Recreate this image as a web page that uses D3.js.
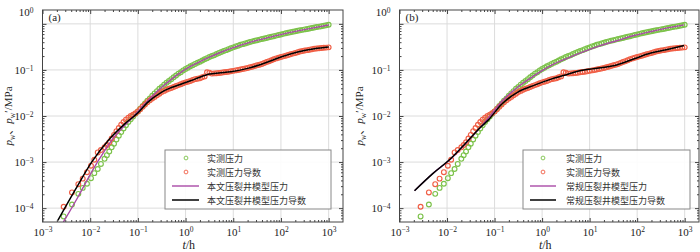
<!DOCTYPE html>
<html>
<head>
<meta charset="utf-8">
<script src="https://cdn.jsdelivr.net/npm/d3@7"></script>
<style>
  body { margin: 0; background: #fff; }
  svg { display: block; }
</style>
</head>
<body>
<script>
// measured data (shared by both panels), t in h, pressure in MPa
const measT = [0.00278, 0.00415, 0.00564, 0.00697, 0.00857, 0.0104, 0.0122, 0.0144, 0.0168,
  0.0200, 0.0224, 0.0251, 0.0282, 0.0316, 0.0355, 0.0398, 0.0447, 0.0501, 0.0562, 0.0631, 0.0708, 0.0794, 0.0891,
  0.100, 0.112, 0.126, 0.141, 0.158, 0.178, 0.200, 0.224, 0.251, 0.282, 0.316, 0.355, 0.398, 0.447, 0.501, 0.562, 0.631, 0.708, 0.794, 0.891,
  1.00, 1.12, 1.26, 1.41, 1.58, 1.78, 2.00, 2.24, 2.51, 2.82, 3.16, 3.55, 3.98, 4.47, 5.01, 5.62, 6.31, 7.08, 7.94, 8.91,
  10.0, 11.2, 12.6, 14.1, 15.8, 17.8, 20.0, 22.4, 25.1, 28.2, 31.6, 35.5, 39.8, 44.7, 50.1, 56.2, 63.1, 70.8, 79.4, 89.1,
  100, 112, 126, 141, 158, 178, 200, 224, 251, 282, 316, 355, 398, 447, 501, 562, 631, 708, 794, 891, 1000];
const measP = [6.6e-5, 1.20e-4, 2.04e-4, 2.75e-4, 3.39e-4, 4.47e-4, 5.75e-4, 7.08e-4, 9.12e-4,
  1.175e-3, 1.41e-3, 1.70e-3, 2.09e-3, 2.51e-3, 3.09e-3, 3.72e-3, 4.47e-3, 5.37e-3, 6.31e-3, 7.41e-3, 8.51e-3, 9.77e-3, 0.0112,
  0.0126, 0.01445, 0.0166, 0.0186, 0.0214, 0.0240, 0.0275, 0.0309, 0.0347, 0.0389, 0.0427, 0.0479, 0.0525, 0.0575, 0.0631, 0.0692, 0.0759, 0.0832, 0.0891, 0.0977,
  0.105, 0.112, 0.120, 0.127, 0.135, 0.143, 0.151, 0.160, 0.170, 0.180, 0.191, 0.200, 0.209, 0.221, 0.234, 0.245, 0.257, 0.269, 0.282, 0.295,
  0.309, 0.324, 0.335, 0.351, 0.363, 0.376, 0.389, 0.403, 0.417, 0.430, 0.442, 0.455, 0.468, 0.482, 0.495, 0.511, 0.525, 0.541, 0.556, 0.573,
  0.589, 0.607, 0.624, 0.643, 0.661, 0.676, 0.692, 0.708, 0.724, 0.741, 0.759, 0.776, 0.794, 0.813, 0.832, 0.851, 0.871, 0.891, 0.912, 0.933, 0.955];
const measDP = [1.07e-4, 2.19e-4, 3.31e-4, 4.37e-4, 6.03e-4, 8.32e-4, 1.12e-3, 1.62e-3, 1.82e-3,
  2.09e-3, 2.34e-3, 2.69e-3, 3.24e-3, 3.89e-3, 4.68e-3, 5.50e-3, 6.46e-3, 7.41e-3, 8.32e-3, 9.12e-3, 0.0100, 0.0107, 0.0115,
  0.0126, 0.0141, 0.0158, 0.0178, 0.0200, 0.0219, 0.0240, 0.0260, 0.0282, 0.0305, 0.0331, 0.0351, 0.0372, 0.0389, 0.0407, 0.0427, 0.0447, 0.0468, 0.0490, 0.0513,
  0.0537, 0.0556, 0.0575, 0.0603, 0.0631, 0.0646, 0.0661, 0.0692, 0.0724, 0.0891, 0.0871, 0.0832, 0.0841, 0.0851, 0.0861, 0.0871, 0.0891, 0.0902, 0.0912, 0.0933,
  0.0955, 0.0977, 0.100, 0.102, 0.105, 0.107, 0.110, 0.114, 0.117, 0.122, 0.126, 0.130, 0.135, 0.141, 0.148, 0.155, 0.162, 0.170, 0.178, 0.184,
  0.191, 0.197, 0.204, 0.211, 0.219, 0.226, 0.234, 0.243, 0.251, 0.257, 0.263, 0.269, 0.275, 0.282, 0.288, 0.292, 0.295, 0.299, 0.302, 0.305, 0.309];

// (a) model of this paper
const paperPresT = [0.00275, 0.00574, 0.0109, 0.0200, 0.0316, 0.0501, 0.0794, 0.126, 0.200, 0.316, 0.501, 0.794, 1.26, 2.00, 3.16, 5.01, 10.0, 25.1, 63.1, 158, 398, 1000];
const paperPresP = [5.0e-5, 1.86e-4, 6.31e-4, 1.74e-3, 3.47e-3, 5.89e-3, 9.55e-3, 0.0162, 0.0269, 0.0420, 0.0625, 0.0885, 0.119, 0.151, 0.189, 0.233, 0.306, 0.413, 0.521, 0.655, 0.787, 0.946];
const paperDerT = [0.0021, 0.00488, 0.0109, 0.0244, 0.0544, 0.100, 0.158, 0.316, 0.794, 1.58, 3.16, 5.01, 8.91, 20.0, 44.7, 100, 224, 501, 1000];
const paperDerP = [5.4e-5, 2.51e-4, 1.02e-3, 3.02e-3, 6.92e-3, 0.0117, 0.0195, 0.0331, 0.0490, 0.0631, 0.0813, 0.0861, 0.0912, 0.108, 0.140, 0.191, 0.245, 0.288, 0.313];

// (b) conventional fractured well model
const convPresT = [0.00207, 0.00501, 0.0122, 0.0251, 0.0501, 0.0736, 0.139, 0.309, 0.693, 1.55, 3.46, 7.74, 17.3, 38.7, 86.5, 194, 433, 966];
const convPresP = [2.39e-4, 5.62e-4, 1.20e-3, 2.57e-3, 5.62e-3, 8.91e-3, 0.0204, 0.0427, 0.0759, 0.126, 0.181, 0.252, 0.340, 0.436, 0.558, 0.682, 0.819, 0.951];
const convDerT = [0.00207, 0.00501, 0.0122, 0.0251, 0.0519, 0.0736, 0.139, 0.309, 0.693, 1.55, 2.95, 5.62, 10.0, 17.4, 38.7, 86.5, 194, 433, 966];
const convDerP = [2.39e-4, 5.62e-4, 1.21e-3, 2.63e-3, 5.85e-3, 8.13e-3, 0.0178, 0.0331, 0.0468, 0.0631, 0.0764, 0.0933, 0.1035, 0.111, 0.130, 0.175, 0.232, 0.279, 0.340];

const xMajor = [1e-3, 1e-2, 1e-1, 1e0, 1e1, 1e2, 1e3];
const yMajor = [1e-4, 1e-3, 1e-2, 1e-1, 1e0];
const legendA = ["实测压力", "实测压力导数", "本文压裂井模型压力", "本文压裂井模型压力导数"];
const legendB = ["实测压力", "实测压力导数", "常规压裂井模型压力", "常规压裂井模型压力导数"];

const W = 700, H = 252;
const yTop = 10, yBottom = 222;
const green = "#7cc24a", red = "#f05e45", purple = "#a94aa6";
const serif = "'Liberation Serif', 'DejaVu Serif', serif";
const cjk = "'Noto Sans CJK SC', sans-serif";

const svg = d3.select("body").append("svg").attr("width", W).attr("height", H);

const panels = [
  { id: "a", left: 42.5, right: 343, tag: "(a)", pres: [paperPresT, paperPresP], der: [paperDerT, paperDerP],
    names: legendA, leg: { x: 165, y: 150, w: 166, h: 59, mx: 186, l1: 172, l2: 199, tx: 207 }, titleX: 12 },
  { id: "b", left: 399.5, right: 699, tag: "(b)", pres: [convPresT, convPresP], der: [convDerT, convDerP],
    names: legendB, leg: { x: 523, y: 150, w: 167, h: 59, mx: 543, l1: 530, l2: 556, tx: 566 }, titleX: 363 }
];

function powLabel(text) {
  text.each(function(d) {
    const e = Math.round(Math.log10(d));
    const t = d3.select(this).text("10");
    t.append("tspan").attr("dy", "-0.45em").attr("font-size", "7.5px")
      .text(e < 0 ? "\u2212" + (-e) : String(e));
  });
}

panels.forEach(pn => {
  const x = d3.scaleLog().domain([1e-3, 2e3]).range([pn.left, pn.right]);
  const y = d3.scaleLog().domain([5e-5, 2]).range([yBottom, yTop]);
  const g = svg.append("g");

  g.append("clipPath").attr("id", "clip-" + pn.id)
    .append("rect").attr("x", pn.left).attr("y", yTop)
    .attr("width", pn.right - pn.left).attr("height", yBottom - yTop);

  // grid
  g.append("g").selectAll("line").data(xMajor).join("line")
    .attr("x1", d => x(d)).attr("x2", d => x(d)).attr("y1", yTop).attr("y2", yBottom)
    .attr("stroke", "#dcdcdc").attr("stroke-width", 1);
  g.append("g").selectAll("line").data(yMajor).join("line")
    .attr("x1", pn.left).attr("x2", pn.right).attr("y1", d => y(d)).attr("y2", d => y(d))
    .attr("stroke", "#dcdcdc").attr("stroke-width", 1);

  const plot = g.append("g").attr("clip-path", `url(#clip-${pn.id})`);

  const pts = measT.map((t, i) => ({ t, p: measP[i], dp: measDP[i] }));
  plot.append("g").selectAll("circle").data(pts).join("circle")
    .attr("cx", d => x(d.t)).attr("cy", d => y(d.p)).attr("r", 2.4)
    .attr("fill", "none").attr("stroke", green).attr("stroke-width", 1.15);
  plot.append("g").selectAll("circle").data(pts).join("circle")
    .attr("cx", d => x(d.t)).attr("cy", d => y(d.dp)).attr("r", 2.4)
    .attr("fill", "none").attr("stroke", red).attr("stroke-width", 1.15);

  const line = d3.line().x(d => x(d[0])).y(d => y(d[1])).curve(d3.curveMonotoneX);
  plot.append("path").datum(pn.pres[0].map((t, i) => [t, pn.pres[1][i]]))
    .attr("d", line).attr("fill", "none").attr("stroke", purple).attr("stroke-width", 1.4);
  plot.append("path").datum(pn.der[0].map((t, i) => [t, pn.der[1][i]]))
    .attr("d", line).attr("fill", "none").attr("stroke", "#000").attr("stroke-width", 1.5);

  // axes, ticks inward on all sides
  const minorX = x.ticks().filter(v => !xMajor.includes(v) && v > 1e-3 && v < 2e3);
  const minorY = y.ticks().filter(v => !yMajor.includes(v) && v > 5e-5 && v < 2);
  const styleAxis = a => {
    a.select(".domain").remove();
    a.selectAll("line").attr("stroke", "#444");
    a.attr("font-family", serif).attr("font-size", 11).selectAll("text").attr("fill", "#222");
  };

  g.append("g").attr("transform", `translate(0,${yBottom})`)
    .call(d3.axisBottom(x).tickValues(xMajor).tickSize(-4).tickSizeOuter(0).tickPadding(6))
    .call(styleAxis).call(a => a.selectAll(".tick text").call(powLabel));
  g.append("g").attr("transform", `translate(0,${yBottom})`)
    .call(d3.axisBottom(x).tickValues(minorX).tickSize(-2).tickFormat("")).call(styleAxis);
  g.append("g").attr("transform", `translate(0,${yTop})`)
    .call(d3.axisTop(x).tickValues(xMajor).tickSize(-4).tickFormat("")).call(styleAxis);
  g.append("g").attr("transform", `translate(0,${yTop})`)
    .call(d3.axisTop(x).tickValues(minorX).tickSize(-2).tickFormat("")).call(styleAxis);

  g.append("g").attr("transform", `translate(${pn.left},0)`)
    .call(d3.axisLeft(y).tickValues(yMajor).tickSize(-4).tickSizeOuter(0).tickPadding(9))
    .call(styleAxis)
    .call(a => a.selectAll(".tick text").call(powLabel))
    .call(a => a.selectAll(".tick").filter(d => d === 1).select("text").attr("y", yTop + 2 - y(1)));
  g.append("g").attr("transform", `translate(${pn.left},0)`)
    .call(d3.axisLeft(y).tickValues(minorY).tickSize(-2).tickFormat("")).call(styleAxis);
  g.append("g").attr("transform", `translate(${pn.right},0)`)
    .call(d3.axisRight(y).tickValues(yMajor).tickSize(-4).tickFormat("")).call(styleAxis);
  g.append("g").attr("transform", `translate(${pn.right},0)`)
    .call(d3.axisRight(y).tickValues(minorY).tickSize(-2).tickFormat("")).call(styleAxis);

  // frame
  g.append("rect").attr("x", pn.left).attr("y", yTop)
    .attr("width", pn.right - pn.left).attr("height", yBottom - yTop)
    .attr("fill", "none").attr("stroke", "#444").attr("stroke-width", 1);

  g.append("text").attr("x", pn.left + 6).attr("y", yTop + 11)
    .attr("font-family", serif).attr("font-size", 11).attr("fill", "#222").text(pn.tag);

  // axis titles
  const xt = g.append("text").attr("x", (pn.left + pn.right) / 2 - 4).attr("y", 249)
    .attr("text-anchor", "middle").attr("font-family", serif).attr("font-size", 12).attr("fill", "#222");
  xt.append("tspan").attr("font-style", "italic").text("t");
  xt.append("tspan").text("/h");

  const yt = g.append("text").attr("transform", `translate(${pn.titleX},116) rotate(-90)`)
    .attr("text-anchor", "middle").attr("font-family", serif).attr("font-size", 11).attr("fill", "#222");
  yt.append("tspan").attr("font-style", "italic").text("p");
  yt.append("tspan").attr("dy", 3).attr("font-size", 7.5).text("w");
  yt.append("tspan").attr("dy", -3).attr("font-family", cjk).text("、");
  yt.append("tspan").attr("font-style", "italic").text("p");
  yt.append("tspan").attr("dy", 3).attr("font-size", 7.5).text("w");
  yt.append("tspan").attr("dy", -3).text("\u2032/MPa");

  // legend
  const L = pn.leg;
  const lg = g.append("g");
  lg.append("rect").attr("x", L.x).attr("y", L.y).attr("width", L.w).attr("height", L.h)
    .attr("fill", "#fff").attr("fill-opacity", 0.9).attr("stroke", "#888").attr("stroke-width", 1);
  const rows = [158, 172, 186, 200];
  lg.append("circle").attr("cx", L.mx).attr("cy", rows[0]).attr("r", 1.9)
    .attr("fill", "none").attr("stroke", green).attr("stroke-width", 0.9);
  lg.append("circle").attr("cx", L.mx).attr("cy", rows[1]).attr("r", 1.9)
    .attr("fill", "none").attr("stroke", red).attr("stroke-width", 0.9);
  lg.append("line").attr("x1", L.l1).attr("x2", L.l2).attr("y1", rows[2]).attr("y2", rows[2])
    .attr("stroke", purple).attr("stroke-width", 1.4);
  lg.append("line").attr("x1", L.l1).attr("x2", L.l2).attr("y1", rows[3]).attr("y2", rows[3])
    .attr("stroke", "#000").attr("stroke-width", 1.5);
  lg.selectAll("text.lab").data(pn.names).join("text").attr("class", "lab")
    .attr("x", L.tx).attr("y", (d, i) => rows[i]).attr("dominant-baseline", "central")
    .attr("font-family", cjk).attr("font-size", 9).attr("fill", "#333").text(d => d);
});
</script>
</body>
</html>
